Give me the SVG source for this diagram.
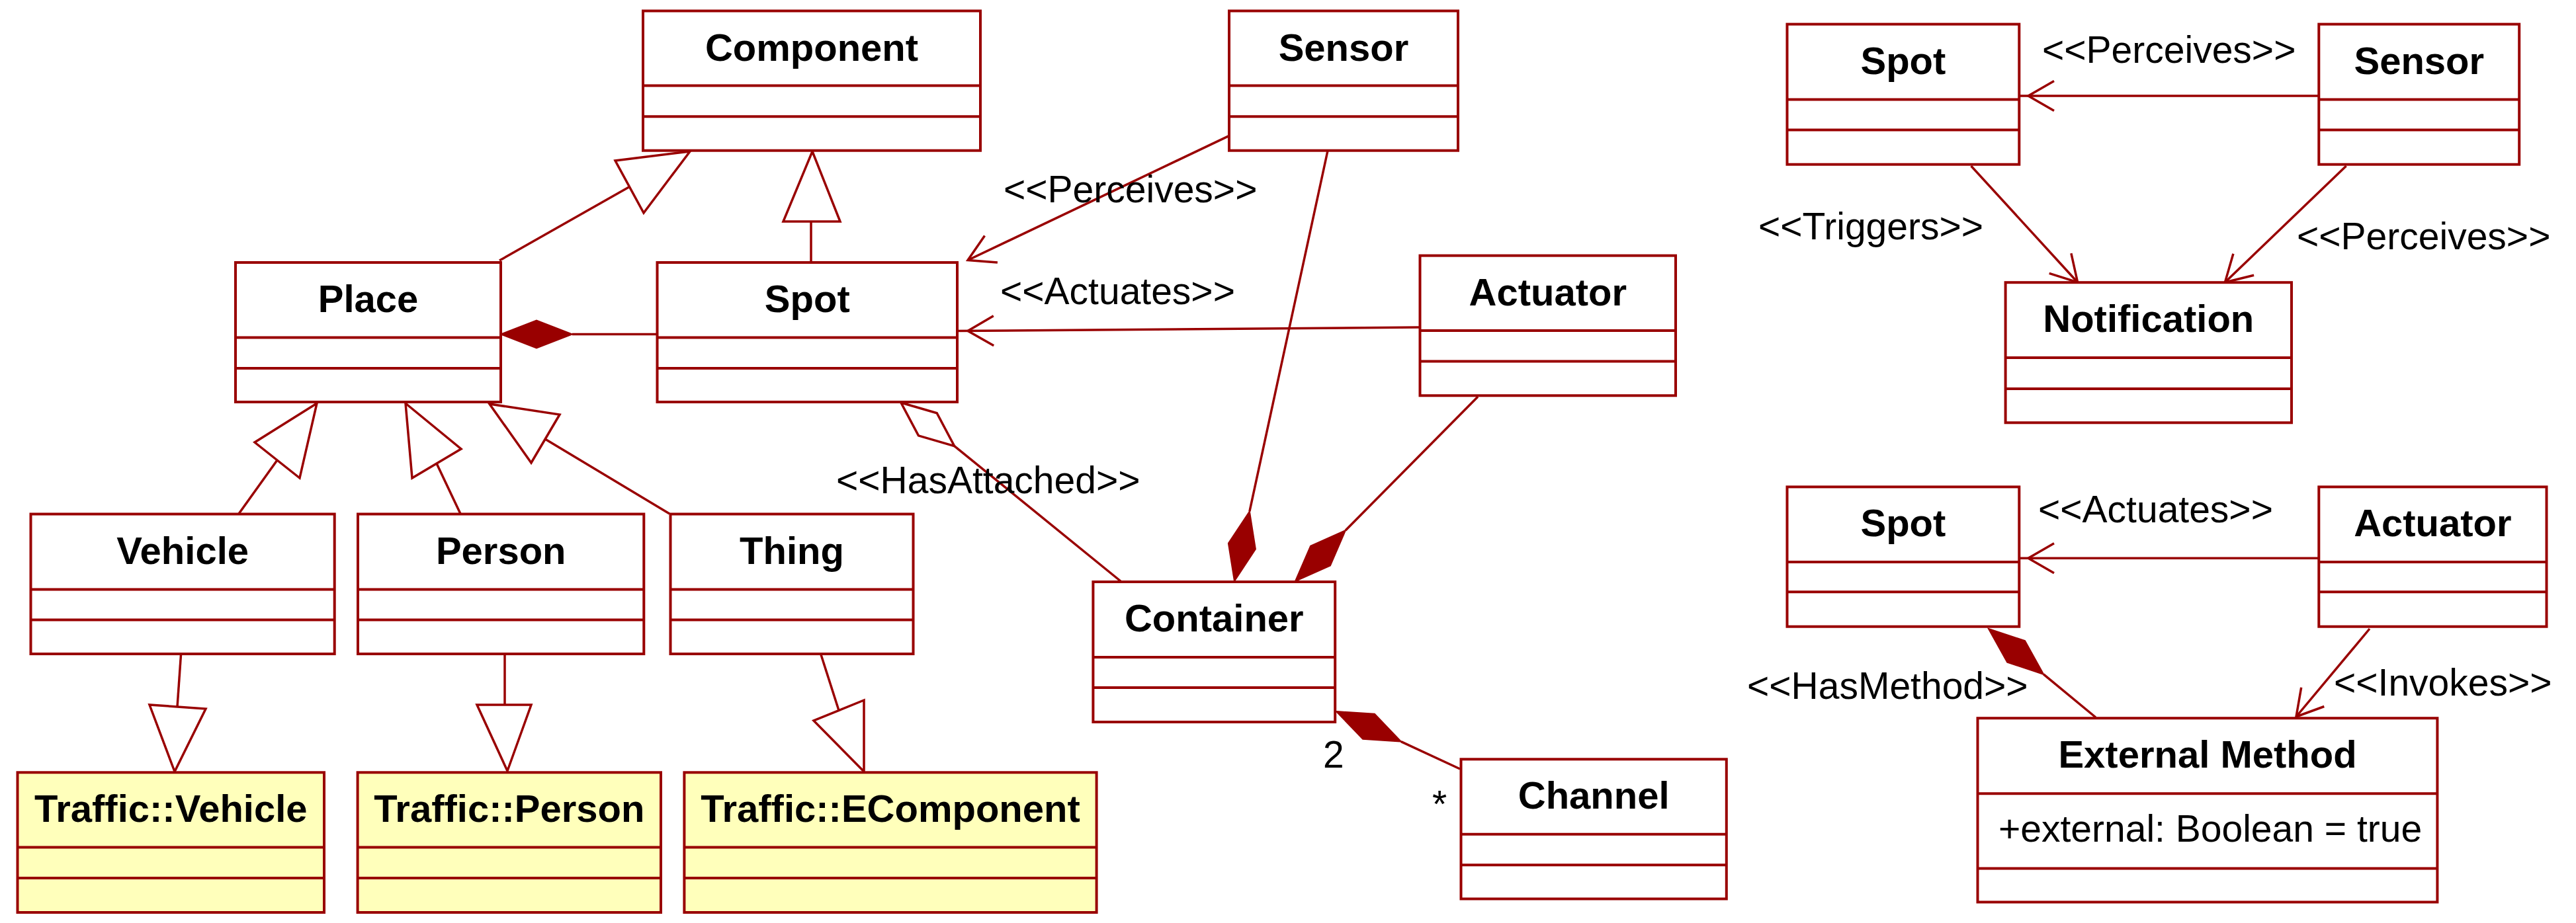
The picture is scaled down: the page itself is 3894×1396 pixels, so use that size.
<svg xmlns="http://www.w3.org/2000/svg" width="3894" height="1396" viewBox="0 0 3894 1396">
<style>
.box{fill:#fff;stroke:#990000;stroke-width:4}
.ext{fill:#FFFFBB}
.dv{stroke:#990000;stroke-width:4}
.name{font-family:"Liberation Sans",Arial,sans-serif;font-weight:bold;font-size:58px;text-anchor:middle;fill:#000}
.attr{font-family:"Liberation Sans",Arial,sans-serif;font-size:57px;fill:#000}
.lbl{font-family:"Liberation Sans",Arial,sans-serif;font-size:57px;fill:#000}
.conn{stroke:#990000;stroke-width:3.5;fill:none;stroke-linejoin:miter}
.fd{fill:#990000;stroke:#990000;stroke-width:2}
.hd{fill:#fff;stroke:#990000;stroke-width:3.5}
</style>
<rect width="3894" height="1396" fill="#fff"/>

<g id="connectors">
  <!-- Place -> Component generalization -->
  <line class="conn" x1="755" y1="394" x2="951.5" y2="282.5"/>
  <polygon class="hd" points="1043,229 930,243 973,322"/>
  <!-- Spot -> Component generalization -->
  <line class="conn" x1="1226" y1="397" x2="1226" y2="335"/>
  <polygon class="hd" points="1228,229 1184,335 1270,335"/>
  <!-- Vehicle -> Place -->
  <line class="conn" x1="361" y1="777" x2="419" y2="696"/>
  <polygon class="hd" points="479,610 385,669 453,723"/>
  <!-- Person -> Place -->
  <line class="conn" x1="696" y1="777" x2="660" y2="701"/>
  <polygon class="hd" points="613,610 697,679 623,723"/>
  <!-- Thing -> Place -->
  <line class="conn" x1="1012" y1="777" x2="824" y2="664"/>
  <polygon class="hd" points="740,611 846,627 803,700"/>
  <!-- Vehicle -> Traffic::Vehicle -->
  <line class="conn" x1="273.6" y1="989" x2="268" y2="1069"/>
  <polygon class="hd" points="264,1167 226,1066 311,1072"/>
  <!-- Person -> Traffic::Person -->
  <line class="conn" x1="763" y1="989" x2="763" y2="1066"/>
  <polygon class="hd" points="767,1166 721,1066 803,1066"/>
  <!-- Thing -> Traffic::EComponent -->
  <line class="conn" x1="1241" y1="990" x2="1268" y2="1074.5"/>
  <polygon class="hd" points="1306,1167 1306,1059 1230,1090"/>

  <!-- Place <>- Spot composition -->
  <line class="conn" x1="865" y1="505.5" x2="993.5" y2="505.5"/>
  <polygon class="fd" points="757,505.5 811,526.5 865,505.5 811,484.5"/>

  <!-- Sensor -> Spot <<Perceives>> -->
  <line class="conn" x1="1858" y1="205.4" x2="1463" y2="393.5"/>
  <path class="conn" d="M1507.9,397.1 L1463,393.5 L1488.5,356.4"/>
  <text class="lbl" x="1517" y="306">&lt;&lt;Perceives&gt;&gt;</text>

  <!-- Actuator -> Spot <<Actuates>> -->
  <line class="conn" x1="2146.5" y1="495" x2="1447" y2="500.5"/>
  <path class="conn" d="M1502.2,522.7 L1463,500.5 L1501.8,477.7"/>
  <text class="lbl" x="1512" y="460">&lt;&lt;Actuates&gt;&gt;</text>

  <!-- Spot <>- Container <<HasAttached>> -->
  <line class="conn" x1="1442.7" y1="674.6" x2="1694" y2="879"/>
  <polygon class="hd" points="1362,609 1416.2,624.7 1442.7,674.6 1388.4,658.9"/>
  <text class="lbl" x="1264" y="746">&lt;&lt;HasAttached&gt;&gt;</text>

  <!-- Sensor -> Container composition -->
  <line class="conn" x1="2007" y1="228" x2="1888.9" y2="773.5"/>
  <polygon class="fd" points="1866,879 1897.9,830.6 1888.9,773.5 1856.9,821.8"/>

  <!-- Actuator -> Container composition -->
  <line class="conn" x1="2234" y1="600" x2="2033.9" y2="802.2"/>
  <polygon class="fd" points="1958,879 2010.9,855.4 2033.9,802.2 1981.1,825.8"/>

  <!-- Container <>- Channel -->
  <line class="conn" x1="2117.9" y1="1121.6" x2="2207" y2="1163"/>
  <polygon class="fd" points="2020,1076 2060.1,1117.8 2117.9,1121.6 2077.9,1079.8"/>
  <text class="lbl" x="2000" y="1161">2</text>
  <text class="lbl" x="2165" y="1236">*</text>

  <!-- Right top: Sensor -> Spot <<Perceives>> -->
  <line class="conn" x1="3505.3" y1="145" x2="3052.3" y2="145"/>
  <path class="conn" d="M3105,167.5 L3066,145 L3105,122.5"/>
  <text class="lbl" x="3087" y="95">&lt;&lt;Perceives&gt;&gt;</text>

  <!-- Spot -> Notification <<Triggers>> -->
  <line class="conn" x1="2979.6" y1="251" x2="3140.6" y2="427"/>
  <path class="conn" d="M3130.9,383.1 L3140.6,427 L3097.7,413.4"/>
  <text class="lbl" x="2658" y="362">&lt;&lt;Triggers&gt;&gt;</text>

  <!-- Sensor -> Notification <<Perceives>> -->
  <line class="conn" x1="3546.6" y1="251" x2="3363.4" y2="427"/>
  <path class="conn" d="M3407.1,416.2 L3363.4,427 L3375.9,383.8"/>
  <text class="lbl" x="3472" y="377">&lt;&lt;Perceives&gt;&gt;</text>

  <!-- Right bottom: Actuator -> Spot <<Actuates>> -->
  <line class="conn" x1="3505.3" y1="844.3" x2="3052.3" y2="844.3"/>
  <path class="conn" d="M3105,866.8 L3066,844.3 L3105,821.8"/>
  <text class="lbl" x="3081" y="790">&lt;&lt;Actuates&gt;&gt;</text>

  <!-- Spot <>- External Method <<HasMethod>> -->
  <line class="conn" x1="3089.2" y1="1019.9" x2="3168" y2="1085"/>
  <polygon class="fd" points="3006,951 3061,969.2 3089.2,1019.9 3034.2,1001.6"/>
  <text class="lbl" x="2641" y="1057">&lt;&lt;HasMethod&gt;&gt;</text>

  <!-- Actuator -> External Method <<Invokes>> -->
  <line class="conn" x1="3582" y1="951" x2="3471" y2="1084"/>
  <path class="conn" d="M3513.3,1068.5 L3471,1084 L3478.7,1039.7"/>
  <text class="lbl" x="3528" y="1052">&lt;&lt;Invokes&gt;&gt;</text>
</g>

<g id="Component">
  <rect class="box" x="972" y="16.5" width="510" height="211.2"/>
  <line class="dv" x1="972" y1="129.5" x2="1482" y2="129.5"/>
  <line class="dv" x1="972" y1="176.3" x2="1482" y2="176.3"/>
  <text class="name" x="1227" y="91.5">Component</text>
</g>
<g id="Sensor">
  <rect class="box" x="1858" y="16.5" width="346" height="211.2"/>
  <line class="dv" x1="1858" y1="129.5" x2="2204" y2="129.5"/>
  <line class="dv" x1="1858" y1="176.3" x2="2204" y2="176.3"/>
  <text class="name" x="2031" y="91.5">Sensor</text>
</g>
<g id="Place">
  <rect class="box" x="356" y="397" width="401" height="211"/>
  <line class="dv" x1="356" y1="510.5" x2="757" y2="510.5"/>
  <line class="dv" x1="356" y1="557" x2="757" y2="557"/>
  <text class="name" x="556.5" y="472">Place</text>
</g>
<g id="Spot">
  <rect class="box" x="993.5" y="397" width="453.5" height="211"/>
  <line class="dv" x1="993.5" y1="510.5" x2="1447" y2="510.5"/>
  <line class="dv" x1="993.5" y1="557" x2="1447" y2="557"/>
  <text class="name" x="1220.3" y="472">Spot</text>
</g>
<g id="Actuator">
  <rect class="box" x="2146.5" y="386.6" width="386.5" height="211.7"/>
  <line class="dv" x1="2146.5" y1="500" x2="2533" y2="500"/>
  <line class="dv" x1="2146.5" y1="546.4" x2="2533" y2="546.4"/>
  <text class="name" x="2339.8" y="461.6">Actuator</text>
</g>
<g id="Vehicle">
  <rect class="box" x="46.5" y="777.5" width="459.2" height="211.5"/>
  <line class="dv" x1="46.5" y1="891.5" x2="505.7" y2="891.5"/>
  <line class="dv" x1="46.5" y1="937.6" x2="505.7" y2="937.6"/>
  <text class="name" x="276.1" y="852.5">Vehicle</text>
</g>
<g id="Person">
  <rect class="box" x="541" y="777.5" width="432.3" height="211.5"/>
  <line class="dv" x1="541" y1="891.5" x2="973.3" y2="891.5"/>
  <line class="dv" x1="541" y1="937.6" x2="973.3" y2="937.6"/>
  <text class="name" x="757.2" y="852.5">Person</text>
</g>
<g id="Thing">
  <rect class="box" x="1013.5" y="777.5" width="367" height="211.5"/>
  <line class="dv" x1="1013.5" y1="891.5" x2="1380.5" y2="891.5"/>
  <line class="dv" x1="1013.5" y1="937.6" x2="1380.5" y2="937.6"/>
  <text class="name" x="1197" y="852.5">Thing</text>
</g>
<g id="Container">
  <rect class="box" x="1652.4" y="880" width="365.8" height="212"/>
  <line class="dv" x1="1652.4" y1="994" x2="2018.2" y2="994"/>
  <line class="dv" x1="1652.4" y1="1040" x2="2018.2" y2="1040"/>
  <text class="name" x="1835.3" y="955">Container</text>
</g>
<g id="TrafficVehicle">
  <rect class="box ext" x="26.5" y="1168.3" width="463.5" height="211.7"/>
  <line class="dv" x1="26.5" y1="1281.5" x2="490" y2="1281.5"/>
  <line class="dv" x1="26.5" y1="1328" x2="490" y2="1328"/>
  <text class="name" x="258.3" y="1243.3">Traffic::Vehicle</text>
</g>
<g id="TrafficPerson">
  <rect class="box ext" x="540.6" y="1168.3" width="458.4" height="211.7"/>
  <line class="dv" x1="540.6" y1="1281.5" x2="999" y2="1281.5"/>
  <line class="dv" x1="540.6" y1="1328" x2="999" y2="1328"/>
  <text class="name" x="769.8" y="1243.3">Traffic::Person</text>
</g>
<g id="TrafficEComponent">
  <rect class="box ext" x="1034.4" y="1168.3" width="623.2" height="211.7"/>
  <line class="dv" x1="1034.4" y1="1281.5" x2="1657.6" y2="1281.5"/>
  <line class="dv" x1="1034.4" y1="1328" x2="1657.6" y2="1328"/>
  <text class="name" x="1346" y="1243.3">Traffic::EComponent</text>
</g>
<g id="Channel">
  <rect class="box" x="2208.5" y="1148.3" width="401.3" height="211.2"/>
  <line class="dv" x1="2208.5" y1="1261.7" x2="2609.8" y2="1261.7"/>
  <line class="dv" x1="2208.5" y1="1308.3" x2="2609.8" y2="1308.3"/>
  <text class="name" x="2409.2" y="1223.3">Channel</text>
</g>
<g id="Spot2">
  <rect class="box" x="2701.5" y="36.6" width="350.8" height="212.1"/>
  <line class="dv" x1="2701.5" y1="150.4" x2="3052.3" y2="150.4"/>
  <line class="dv" x1="2701.5" y1="196.4" x2="3052.3" y2="196.4"/>
  <text class="name" x="2876.9" y="111.6">Spot</text>
</g>
<g id="Sensor2">
  <rect class="box" x="3505.3" y="36.6" width="302.9" height="212.1"/>
  <line class="dv" x1="3505.3" y1="150.4" x2="3808.2" y2="150.4"/>
  <line class="dv" x1="3505.3" y1="196.4" x2="3808.2" y2="196.4"/>
  <text class="name" x="3656.8" y="111.6">Sensor</text>
</g>
<g id="Notification">
  <rect class="box" x="3031.6" y="427.2" width="432.4" height="212.1"/>
  <line class="dv" x1="3031.6" y1="541" x2="3464" y2="541"/>
  <line class="dv" x1="3031.6" y1="588" x2="3464" y2="588"/>
  <text class="name" x="3247.8" y="502.2">Notification</text>
</g>
<g id="Spot3">
  <rect class="box" x="2701.5" y="736.4" width="350.8" height="211.3"/>
  <line class="dv" x1="2701.5" y1="850" x2="3052.3" y2="850"/>
  <line class="dv" x1="2701.5" y1="895.3" x2="3052.3" y2="895.3"/>
  <text class="name" x="2876.9" y="811.4">Spot</text>
</g>
<g id="Actuator2">
  <rect class="box" x="3505.3" y="736.4" width="344.2" height="211.3"/>
  <line class="dv" x1="3505.3" y1="850" x2="3849.5" y2="850"/>
  <line class="dv" x1="3505.3" y1="895.3" x2="3849.5" y2="895.3"/>
  <text class="name" x="3677.4" y="811.4">Actuator</text>
</g>
<g id="ExternalMethod">
  <rect class="box" x="2989.5" y="1086.2" width="694.9" height="278.2"/>
  <line class="dv" x1="2989.5" y1="1200.2" x2="3684.4" y2="1200.2"/>
  <line class="dv" x1="2989.5" y1="1313.4" x2="3684.4" y2="1313.4"/>
  <text class="name" x="3337" y="1161.2">External Method</text>
  <text class="attr" x="3021" y="1272.6">+external: Boolean = true</text>
</g>
</svg>
